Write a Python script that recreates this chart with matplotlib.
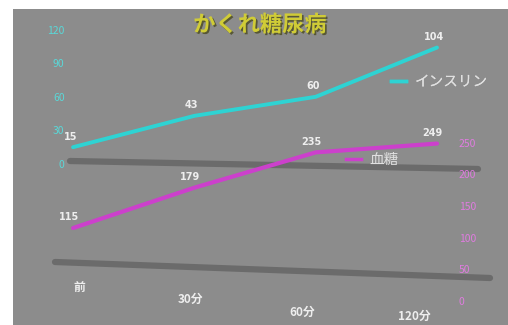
import matplotlib
matplotlib.use("Agg")
import matplotlib.pyplot as plt
from matplotlib.patches import Rectangle
from matplotlib.lines import Line2D
import matplotlib.patheffects as pe
from matplotlib.transforms import blended_transform_factory

plt.rcParams['font.family'] = ['Noto Sans CJK JP', 'DejaVu Sans']

# ---- data ----
categories = ["前", "30分", "60分", "120分"]
insulin = [15, 43, 60, 104]
blood_sugar = [115, 179, 235, 249]
left_ticks = [0, 30, 60, 90, 120]
right_ticks = [0, 50, 100, 150, 200, 250]
title = "かくれ糖尿病"
insulin_name = "インスリン"
sugar_name = "血糖"

BG = "#8c8c8c"
CYAN = "#2ed3d3"
MAGENTA = "#cc40cc"
LABEL = "#eeeeee"

fig = plt.figure(figsize=(5.08, 3.25), dpi=100, facecolor="white")
fig.patches.append(Rectangle((13/508, 0), 1 - 13/508, 1 - 9/325,
                             transform=fig.transFigure, facecolor=BG,
                             edgecolor="none", zorder=-10))

ax = fig.add_axes([66/508, 15/325, (445-66)/508, 290/325])
ax.set_facecolor("none")
ax2 = ax.twinx()
ax2.set_facecolor("none")

x = list(range(len(categories)))

# decorative floor shadows
for (x0, y0, x1, y1) in [(70, 161, 478, 169), (55, 262, 490, 278)]:
    ax.add_line(Line2D([x0/508, x1/508], [1 - y0/325, 1 - y1/325],
                       transform=fig.transFigure, color="#636363",
                       lw=4.5, alpha=0.8, solid_capstyle="round", zorder=1,
                       clip_on=False))

ax.plot(x, insulin, color=CYAN, lw=2.8, zorder=3, solid_capstyle="round")
ax2.plot(x, blood_sugar, color=MAGENTA, lw=3, zorder=3, solid_capstyle="round")

ax.set_xlim(-0.058, 3.066)
ax.set_ylim(-130.4, 128.6)
ax2.set_ylim(-15, 445)

for a in (ax, ax2):
    for s in a.spines.values():
        s.set_visible(False)
ax.set_xticks([])
ax.set_yticks(left_ticks)
ax.tick_params(axis="y", length=0, labelsize=7.5, labelcolor="#5ad8d8", pad=1)
ax2.set_yticks(right_ticks)
ax2.tick_params(axis="y", length=0, labelsize=7.5, labelcolor="#e07ce0", pad=10)

for xi, v in zip(x, insulin):
    ax.annotate(str(v), (xi, v), xytext=(-2, 4), textcoords="offset points",
                ha="center", va="bottom", fontsize=7, color=LABEL,
                family=["DejaVu Sans"], fontweight="bold")
for xi, v in zip(x, blood_sugar):
    ax2.annotate(str(v), (xi, v), xytext=(-3, 4), textcoords="offset points",
                 ha="center", va="bottom", fontsize=7, color=LABEL,
                 family=["DejaVu Sans"], fontweight="bold")

# staggered category labels
tr = blended_transform_factory(ax.transData, fig.transFigure)
for i, (xi, lab) in enumerate(zip(x, categories)):
    ypix = min(287 + 12.5 * i, 316)
    ax.text(xi + 0.05 - 0.08 * i, 1 - ypix / 325, lab,
            transform=tr, ha="center", va="center", fontsize=8.5,
            color=LABEL, fontweight="bold")

# legends
leg1 = ax.legend([Line2D([], [], color=CYAN, lw=2.5)], [insulin_name],
                 loc="center left", bbox_to_anchor=(378/508, 1 - 82/325),
                 bbox_transform=fig.transFigure, frameon=False,
                 handlelength=1.0, handletextpad=0.6, fontsize=10.5,
                 labelcolor="#e0e0e0")
ax.add_artist(leg1)
leg2 = ax2.legend([Line2D([], [], color=MAGENTA, lw=2.5)], [sugar_name],
                  loc="center left", bbox_to_anchor=(333/508, 1 - 160/325),
                  bbox_transform=fig.transFigure, frameon=False,
                  handlelength=1.0, handletextpad=0.6, fontsize=10.5,
                  labelcolor="#e0e0e0")

fig.text(260/508, 1 - 25/325, title, ha="center", va="center",
         fontsize=16, fontweight="bold", color="#d0cc36",
         path_effects=[pe.withSimplePatchShadow(offset=(1.2, -1.2),
                                                shadow_rgbFace="#4a4a20",
                                                alpha=0.8)])

fig.savefig("out.png", dpi=100, facecolor="white")
